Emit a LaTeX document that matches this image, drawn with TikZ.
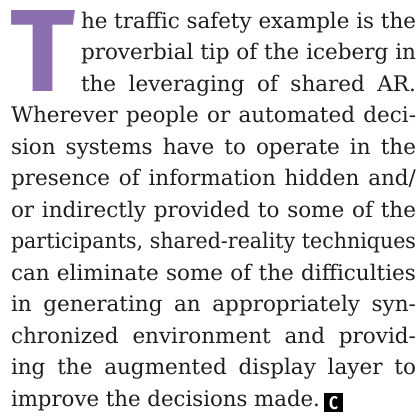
\documentclass[tikz,border=0pt]{standalone}
\usepackage{fontspec}
\usepackage{graphicx}
\setmainfont{DejaVu Serif}
\newfontfamily\capfont{Fira Sans}
\definecolor{capviolet}{HTML}{8C6FAF}
\definecolor{bodyink}{HTML}{1E1E1E}
\newsavebox\lnbox
\newcommand\jl[2]{\sbox\lnbox{#2}\ifdim\wd\lnbox>#1\relax\resizebox{#1}{\height}{#2}\else\makebox[#1][s]{#2}\fi}
\begin{document}
\begin{tikzpicture}[x=1pt,y=1pt,
  bodyline/.style={anchor=base west,inner sep=0pt,outer sep=0pt,text=bodyink,font=\fontsize{21.5}{26}\selectfont}]
\useasboundingbox (0,0) rectangle (420,-416);
\fill[white] (0,0) rectangle (420,-416);
\node[anchor=south west,inner sep=0pt,text=capviolet] (dropcap) at (10,-92) {\resizebox{65pt}{81pt}{\capfont\bfseries T}};
\node[bodyline] (l1) at (81,-28) {\jl{335pt}{he traffic safety example is the}};
\node[bodyline] (l2) at (81,-59.5) {\jl{335pt}{proverbial tip of the iceberg in}};
\node[bodyline] (l3) at (81,-91) {\jl{335pt}{the leveraging of shared AR.}};
\node[bodyline] (l4) at (11,-122.5) {\jl{405pt}{Wherever people or automated deci-}};
\node[bodyline] (l5) at (11,-154) {\jl{405pt}{sion systems have to operate in the}};
\node[bodyline] (l6) at (11,-185.5) {\jl{405pt}{presence of information hidden and/}};
\node[bodyline] (l7) at (11,-217) {\jl{405pt}{or indirectly provided to some of the}};
\node[bodyline] (l8) at (11,-248.5) {\jl{405pt}{participants, shared-reality techniques}};
\node[bodyline] (l9) at (11,-280) {\jl{405pt}{can eliminate some of the difficulties}};
\node[bodyline] (l10) at (11,-311.5) {\jl{405pt}{in generating an appropriately syn-}};
\node[bodyline] (l11) at (11,-343) {\jl{405pt}{chronized environment and provid-}};
\node[bodyline] (l12) at (11,-374.5) {\jl{405pt}{ing the augmented display layer to}};
\node[bodyline] (l13) at (11,-406) {\jl{309pt}{improve the decisions made.}};
\node[anchor=north west,fill=black,minimum width=19pt,minimum height=19pt,inner sep=0pt,text=white] (endmark) at (324,-393) {\resizebox{9pt}{13pt}{\capfont\bfseries C}};
\end{tikzpicture}
\end{document}
